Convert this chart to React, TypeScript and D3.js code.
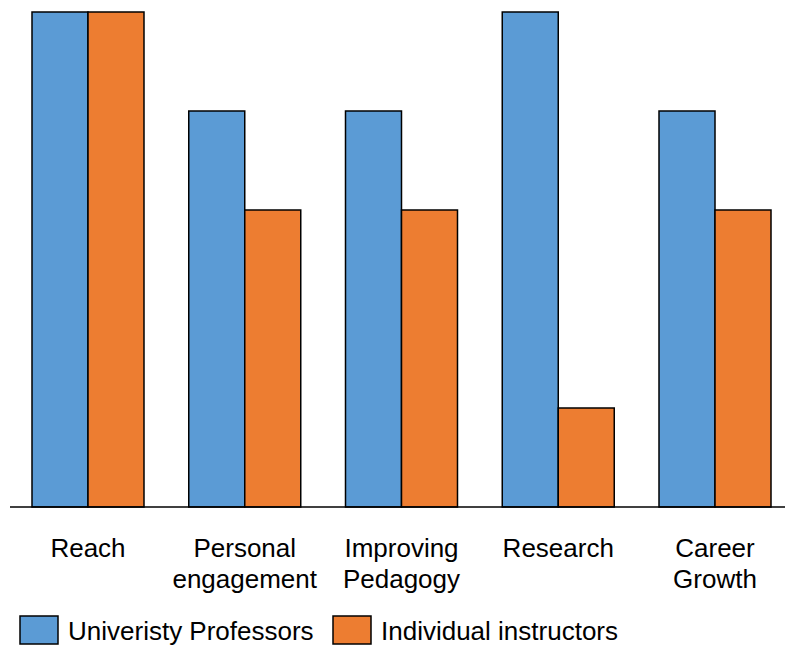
import React from "react";
import * as d3 from "d3";

const categories = ["Reach", "Personal engagement", "Improving Pedagogy", "Research", "Career Growth"];
const categoryLines = [["Reach"], ["Personal", "engagement"], ["Improving", "Pedagogy"], ["Research"], ["Career", "Growth"]];
const seriesNames = ["Univeristy Professors", "Individual instructors"];
const professors = [5, 4, 4, 5, 4];
const instructors = [5, 3, 3, 1, 3];
const colors = ["#5B9BD5", "#ED7D31"];

export default function App() {
  const W = 785, H = 649;
  const x = d3.scaleBand<string>().domain(categories).range([32, 771]).paddingInner(0.2855).paddingOuter(0);
  const sub = d3.scaleBand<string>().domain(seriesNames).range([0, x.bandwidth()]).padding(0);
  const y = d3.scaleLinear().domain([0, 5]).range([507, 12]);
  const series = [professors, instructors];
  const font = "'Liberation Sans', Arial, sans-serif";
  return (
    <svg width={W} height={H} style={{ position: "absolute", left: 0, top: 0 }} fontFamily={font}>
      <rect width={W} height={H} fill="#fff" />
      {categories.map((c, i) =>
        seriesNames.map((s, j) => (
          <rect
            key={c + s}
            x={(x(c) ?? 0) + (sub(s) ?? 0)}
            y={y(series[j][i])}
            width={sub.bandwidth()}
            height={y(0) - y(series[j][i])}
            fill={colors[j]}
            stroke="#000"
            strokeWidth={1.5}
          />
        ))
      )}
      <line x1={10} x2={785} y1={y(0)} y2={y(0)} stroke="#000" strokeWidth={1.5} />
      {categories.map((c, i) => (
        <text key={c} x={(x(c) ?? 0) + x.bandwidth() / 2} y={557} textAnchor="middle" fontSize={26} fill="#000">
          {categoryLines[i].map((l, k) => (
            <tspan key={k} x={(x(c) ?? 0) + x.bandwidth() / 2} dy={k === 0 ? 0 : 31}>{l}</tspan>
          ))}
        </text>
      ))}
      {seriesNames.map((s, j) => {
        const lx = j === 0 ? 20 : 333;
        return (
          <g key={s}>
            <rect x={lx} y={616} width={38} height={28} fill={colors[j]} stroke="#000" strokeWidth={1.5} />
            <text x={lx + 48} y={640} fontSize={26} fill="#000">{s}</text>
          </g>
        );
      })}
    </svg>
  );
}
